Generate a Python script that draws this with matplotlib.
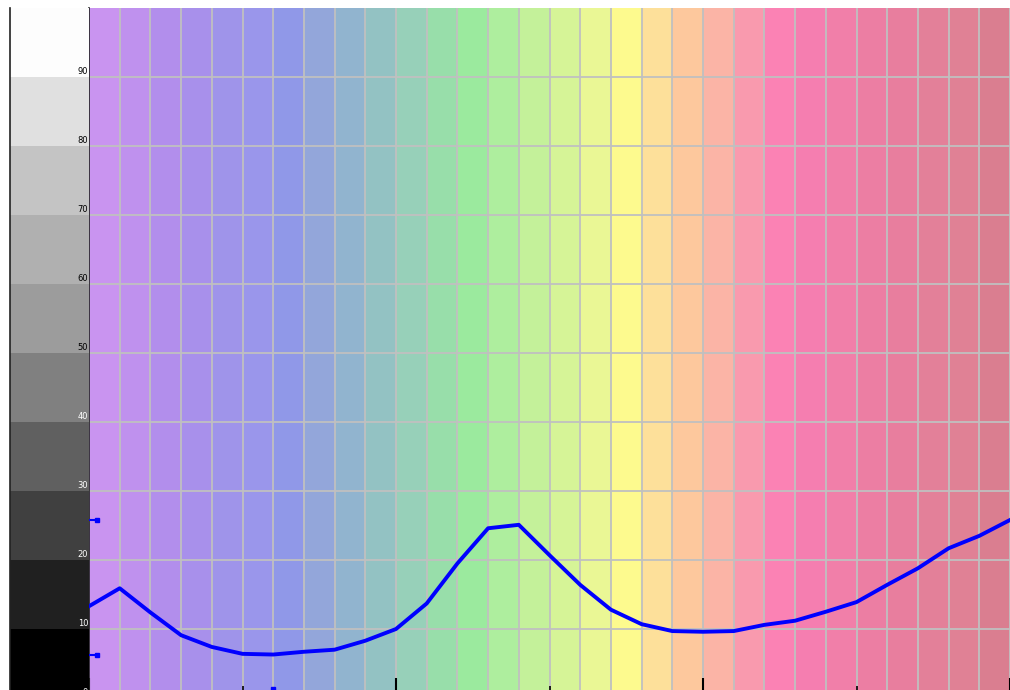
#!/usr/bin/env python3
"""Striped-background line chart with a grey value scale on the left."""

import numpy as np
import matplotlib
matplotlib.use('Agg')
import matplotlib.pyplot as plt

# ---- data -----------------------------------------------------------------
x_index = list(range(31))
series = [13.3, 15.9, 12.4, 9.1, 7.4, 6.4, 6.3, 6.7, 7.0, 8.3,
          10.0, 13.7, 19.5, 24.6, 25.1, 20.7, 16.4, 12.8, 10.7, 9.7,
          9.6, 9.7, 10.6, 11.2, 12.5, 13.9, 16.4, 18.8, 21.7, 23.5, 25.8]
y_ticks = [0, 10, 20, 30, 40, 50, 60, 70, 80, 90]
x_major = [0, 10, 20, 30]
x_minor = [5, 15, 25]

# ---- styles ---------------------------------------------------------------
stripe_colors = ['#c994f0', '#bf91ee', '#b28eec', '#a890eb', '#9f94ea', '#9a96eb',
                 '#9098e8', '#93a6da', '#91b4cf', '#93c2c3', '#97d0b9', '#98deaa',
                 '#9bea9e', '#aeee9e', '#c4f19a', '#d6f497', '#eaf795', '#fdfa8e',
                 '#fde09a', '#fdc89d', '#fbb4a6', '#f99aae', '#fb82b4', '#f57eb0',
                 '#f17fa9', '#ec7ea3', '#e87e9e', '#e38099', '#e08195', '#da7e90']
band_colors = ['#000000', '#202020', '#404040', '#606060', '#808080',
               '#9c9c9c', '#b0b0b0', '#c4c4c4', '#e0e0e0', '#fdfdfd']

W, H = 1010, 690
fig = plt.figure(figsize=(W / 100, H / 100), dpi=100)

# pixel geometry of the plot (value 0 sits just below the image edge)
y_top, y_zero = 8, 698
bottom = (H - y_zero) / H
height = (y_zero - y_top) / H
x_left = 89
col_w = 31.0

ax = fig.add_axes([x_left / W, bottom, (W - x_left) / W, height])
ax.set_xlim(0, (W - x_left) / col_w)
ax.set_ylim(0, 100)

for i, c in enumerate(stripe_colors):
    ax.axvspan(i, i + 1, color=c, lw=0, zorder=0)

for i in range(1, len(stripe_colors) + 1):
    ax.axvline(i, color='#c0c0c0', lw=1.3, zorder=1)
for v in y_ticks[1:]:
    ax.axhline(v, color='#c0c0c0', lw=1.3, zorder=1)

ax.plot(x_index, series, color='#0000ff', lw=2.8, zorder=3, solid_joinstyle='round')

# min / max markers on the axes
vmin, vmax = min(series), max(series)
imin = int(np.argmin(series))
for v in (vmax, vmin):
    ax.plot([0, 0.25], [v, v], color='#0000ff', lw=1.5, zorder=4, clip_on=False)
    ax.plot([0.25], [v], marker='s', ms=3.5, color='#0000ff', zorder=4)
ax.plot([imin], [1.3], marker='s', ms=3.5, color='#0000ff', zorder=4)

ax.set_xticks(x_major)
ax.set_xticks(x_minor, minor=True)
ax.set_xticklabels([])
ax.set_yticks([])
ax.tick_params(axis='x', which='major', direction='in', length=14.5, width=1.5, color='black')
ax.tick_params(axis='x', which='minor', direction='in', length=8.5, width=1.2, color='black')
for s in ('top', 'right'):
    ax.spines[s].set_visible(False)
ax.spines['left'].set_color('#222222')
ax.spines['left'].set_linewidth(1.2)

# grey value scale on the left
bx = fig.add_axes([10 / W, bottom, (x_left - 10) / W, height])
bx.set_xlim(0, 1)
bx.set_ylim(0, 100)
for v, c in zip(y_ticks, band_colors):
    bx.axhspan(v, v + 10, color=c, lw=0)
for v in y_ticks:
    tc = 'white' if v <= 40 else 'black'
    bx.text(0.99, v + 0.2, str(v), ha='right', va='bottom', fontsize=6,
            color=tc, family='DejaVu Sans')
bx.set_xticks([])
bx.set_yticks([])
for s in ('top', 'right', 'bottom'):
    bx.spines[s].set_visible(False)
bx.spines['left'].set_color('#222222')
bx.spines['left'].set_linewidth(1.2)

fig.savefig('out.png', dpi=100)
